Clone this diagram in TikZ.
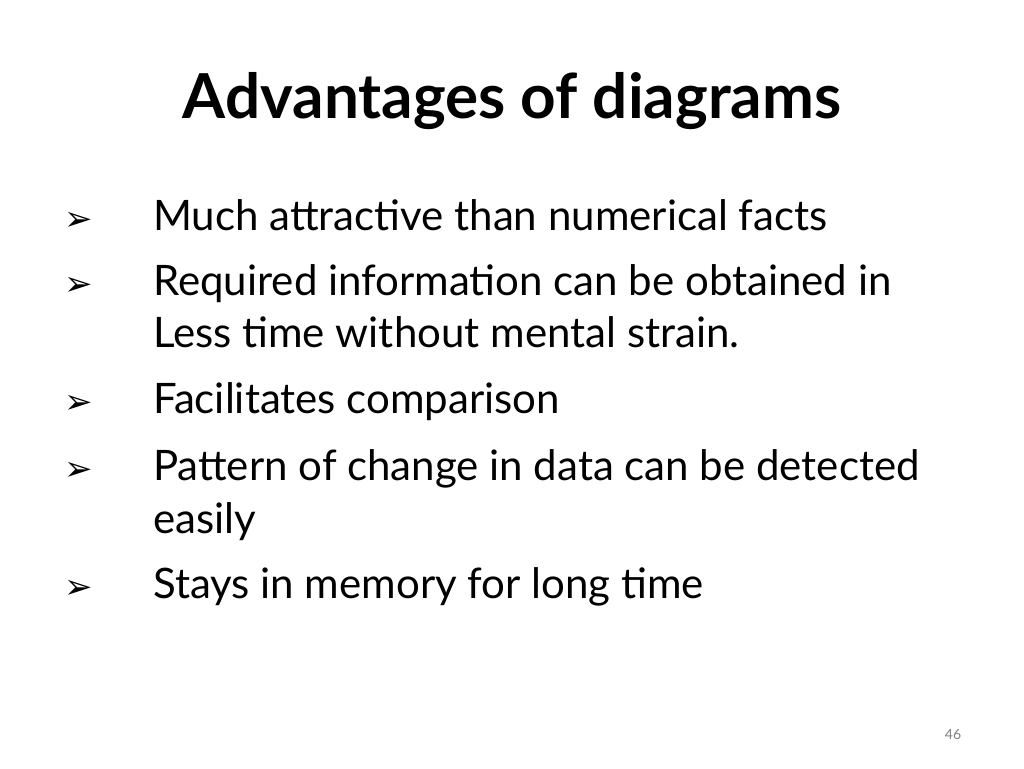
\documentclass[tikz,border=0pt]{standalone}
\usepackage{fontspec}
\setmainfont{Lato}
\newfontfamily\symf{DejaVu Sans}
\begin{document}
\begin{tikzpicture}[x=1pt,y=-1pt,
  body/.style={anchor=base west,inner sep=0pt,font=\fontsize{42}{50}\selectfont},
  bul/.style={anchor=base west,inner sep=0pt,font=\symf\fontsize{34}{40}\selectfont}]
\useasboundingbox (0,0) rectangle (1024,768);
\node[anchor=base,inner sep=0pt,font=\bfseries\fontsize{62}{70}\selectfont] (title) at (512,118) {Advantages of diagrams};
\foreach \y/\n in {230/b1,295/b2,413/b3,480/b4,598/b5}
  \node[bul] (\n) at (64,\y) {➢};
\node[body] (t1) at (153,230) {Much attractive than numerical facts};
\node[body] (t2) at (153,295) {Required information can be obtained in};
\node[body] (t2b) at (153,347) {Less time without mental strain.};
\node[body] (t3) at (153,413) {Facilitates comparison};
\node[body] (t4) at (153,480) {Pattern of change in data can be detected};
\node[body] (t4b) at (153,533) {easily};
\node[body] (t5) at (153,598) {Stays in memory for long time};
\node[anchor=base,inner sep=0pt,text=gray,font=\fontsize{14}{16}\selectfont] (pg) at (953,739) {46};
\end{tikzpicture}
\end{document}
